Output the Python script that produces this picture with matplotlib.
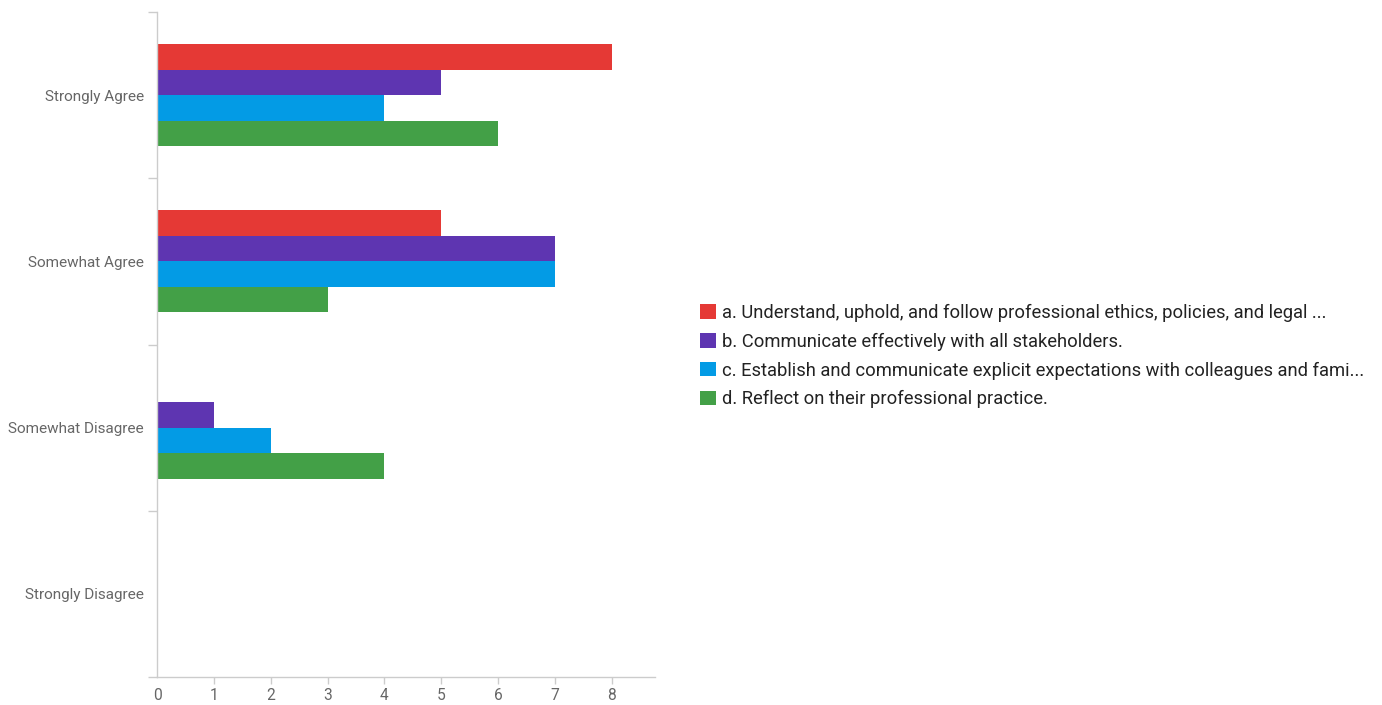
import matplotlib
matplotlib.use("Agg")
import matplotlib.pyplot as plt
from matplotlib.patches import Patch
import numpy as np

categories = ["Strongly Agree", "Somewhat Agree", "Somewhat Disagree", "Strongly Disagree"]
series_names = [
    "a. Understand, uphold, and follow professional ethics, policies, and legal ...",
    "b. Communicate effectively with all stakeholders.",
    "c. Establish and communicate explicit expectations with colleagues and fami...",
    "d. Reflect on their professional practice.",
]
values_a = [8, 5, 0, 0]
values_b = [5, 7, 1, 0]
values_c = [4, 7, 2, 0]
values_d = [6, 3, 4, 0]
colors = ["#E53935", "#5E35B1", "#039BE5", "#43A047"]
x_ticks = [0, 1, 2, 3, 4, 5, 6, 7, 8]

plt.rcParams['font.family'] = ['Roboto', 'DejaVu Sans']

fig = plt.figure(figsize=(13.82, 7.05), dpi=100)
ax = fig.add_axes([157/1382, 1 - 677/705, (655-157)/1382, (677-12)/705])

series = [values_a, values_b, values_c, values_d]
h = 25.5 / 166
y = np.arange(len(categories))
for k, (vals, col) in enumerate(zip(series, colors)):
    ax.barh(y + (k - 1.5) * h, vals, height=h, color=col, linewidth=0)

ax.set_ylim(len(categories) - 0.5, -0.5)
ax.set_xlim(0, 8.76)
ax.set_yticks(y)
ax.set_yticklabels(categories)
ax.set_yticks(np.arange(-0.5, len(categories), 1.0), minor=True)
ax.tick_params(axis='y', which='major', length=0, pad=9.5, labelsize=11, labelcolor='#666666')
ax.tick_params(axis='y', which='minor', length=6.5, color='#cccccc', width=1)
ax.set_xticks(x_ticks)
ax.tick_params(axis='x', length=5, color='#cccccc', width=1, labelsize=11.2, labelcolor='#666666', pad=3)
ax.xaxis.get_major_ticks()[0].tick1line.set_visible(False)

for s in ['top', 'right']:
    ax.spines[s].set_visible(False)
for s in ['left', 'bottom']:
    ax.spines[s].set_color('#cccccc')
    ax.spines[s].set_linewidth(1)

handles = [Patch(facecolor=c, edgecolor='none') for c in colors]
fig.legend(handles, series_names, loc='center left', bbox_to_anchor=(691/1382, 1 - 356/705),
           frameon=False, fontsize=13.2, handlelength=0.85, handleheight=0.85,
           handletextpad=0.35, labelspacing=0.59, labelcolor='#222222', borderpad=0)

fig.savefig("out.png", dpi=100)
